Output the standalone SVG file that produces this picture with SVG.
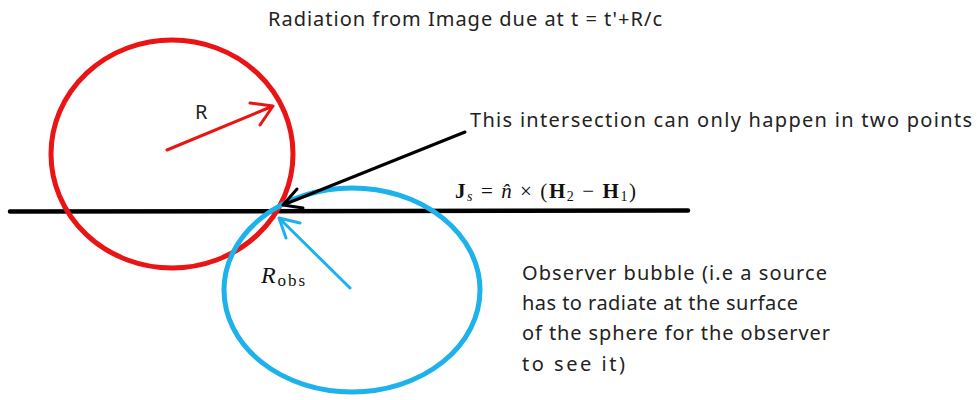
<svg xmlns="http://www.w3.org/2000/svg" width="977" height="400" viewBox="0 0 977 400">
<style>
.lbl{font-family:"Noto Sans","DejaVu Sans",sans-serif;font-size:20px;fill:#222}
.math{font-family:"Liberation Serif","DejaVu Serif",serif;fill:#111}
.red{stroke:#ea1414;fill:none;stroke-linecap:round;stroke-linejoin:round}
.blue{stroke:#1db3ea;fill:none;stroke-linecap:round;stroke-linejoin:round}
.blk{stroke:#000;fill:none;stroke-linecap:round;stroke-linejoin:round}
</style>
<rect width="977" height="400" fill="#fff"/>
<g id="title"><text class="lbl" x="268" y="26" textLength="394">Radiation from Image due at t = t'+R/c</text></g>
<g id="surface">
<line class="blk" x1="10" y1="211.5" x2="688" y2="210.5" stroke-width="4.5" stroke-linecap="butt"/>
<text class="math" x="455" y="198" font-size="21" textLength="181"><tspan font-weight="bold">J</tspan><tspan font-style="italic" font-size="14" dy="3">s</tspan><tspan dy="-3"> = </tspan><tspan font-style="italic">n̂</tspan> × (<tspan font-weight="bold">H</tspan><tspan font-size="14" dy="3">2</tspan><tspan dy="-3"> − </tspan><tspan font-weight="bold">H</tspan><tspan font-size="14" dy="3">1</tspan><tspan dy="-3">)</tspan></text>
</g>
<g id="image-sphere">
<ellipse class="red" cx="172" cy="154" rx="121" ry="114" stroke-width="5"/>
<text class="lbl" x="195" y="119">R</text>
</g>
<g id="observer-bubble">
<ellipse class="blue" cx="352" cy="290" rx="128" ry="102" stroke-width="5"/>
<text class="math" x="261" y="283" font-size="24" font-style="italic" textLength="44">R<tspan font-style="normal" font-size="17" dy="3">obs</tspan></text>
</g>
<g id="note-intersection"><text class="lbl" x="470" y="127" textLength="502">This intersection can only happen in two points</text></g>
<g id="note-observer">
<text class="lbl" x="522" y="280" textLength="305">Observer bubble (i.e a source</text>
<text class="lbl" x="522" y="310" textLength="276">has to radiate at the surface</text>
<text class="lbl" x="522" y="340" textLength="308">of the sphere for the observer</text>
<text class="lbl" x="522" y="371" textLength="103">to see it)</text>
</g>
<g id="connectors">
<path class="red" stroke-width="3" d="M167,150 L273,106 M250,103 L273,106 L260,125"/>
<path class="blk" stroke-width="3" d="M465,132 L283,205 M297,189 L283,205 L303,208"/>
<path class="blue" stroke-width="3" d="M350,288 L279,218 M300,223 L279,218 L286,238"/>
</g>
</svg>
